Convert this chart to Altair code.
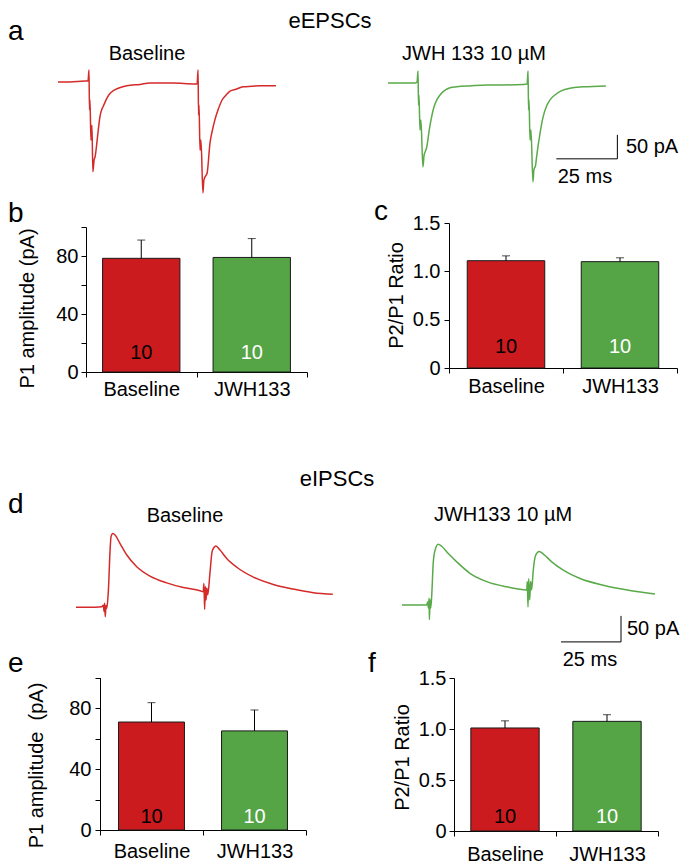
import altair as alt
import pandas as pd

FONT = "Liberation Sans"
RED_BAR = "#cc1b1f"
GREEN_BAR = "#55a546"
RED_TRACE = "#d42a2a"
GREEN_TRACE = "#5aaa4a"

# ---------------- data ----------------
categories = ["Baseline", "JWH133"]
n_cells = [10, 10]
n_label_colors = ["black", "white"]

p1_epsc_mean = [78.4, 79.0]
p1_epsc_sem = [12.6, 13.0]
ppr_epsc_mean = [1.11, 1.10]
ppr_epsc_sem = [0.05, 0.04]
p1_ipsc_mean = [70.8, 65.0]
p1_ipsc_sem = [12.7, 13.7]
ppr_ipsc_mean = [1.01, 1.075]
ppr_ipsc_sem = [0.07, 0.065]

# eEPSC traces (time in ms, current in pA)
epsc_base_t = [0, 4.9, 11.1, 12.3, 12.7, 12.9, 13.1, 13.5, 13.9, 14.3, 14.8, 15.2, 15.9, 16.5, 17.2,
               17.9, 18.6, 20.0, 21.3, 22.7, 24.7, 28.2, 33.6, 37.7, 47.1, 56.1, 57.0, 57.4, 57.6,
               57.8, 58.2, 58.6, 59.4, 59.8, 60.7, 61.1, 62.3, 63.3, 64.3, 65.6, 67.2, 68.9, 70.5,
               73.0, 75.8, 79.5, 82.8, 89.3]
epsc_base_i = [0, 0, 2, 2, 25, -58, -37, -121, -90, -187, -162, -156, -128, -100, -72,
               -58, -50, -34, -24, -18, -13, -8, -5, -2, -2, -4, -4, 25, -69,
               -48, -142, -121, -231, -204, -194, -190, -127, -100, -79, -58, -38, -27, -19,
               -15, -10, -9, -8, -8]
epsc_jwh_t = [0, 4.9, 11.1, 11.9, 12.3, 12.5, 12.7, 13.1, 13.5, 14.3, 14.8, 15.2, 15.9, 16.9, 17.9,
              18.9, 20.0, 21.3, 23.4, 25.4, 28.2, 33.6, 40.5, 47.3, 55.5, 57.0, 57.4, 57.6, 57.8,
              58.2, 58.6, 59.4, 59.8, 60.5, 60.9, 62.3, 63.6, 65.0, 66.4, 68.4, 71.2, 74.6, 80.0,
              89.3]
epsc_jwh_i = [0, 0, 0, 2, 25, -46, -25, -98, -77, -175, -150, -144, -133, -98, -70,
              -49, -35, -25, -15, -10, -8, -6, -4, -4, -3, -2, 25, -56, -35,
              -119, -98, -206, -181, -171, -154, -105, -70, -48, -35, -25, -16, -11, -8,
              -6]

# eIPSC traces
ipsc_base_t = [0, 5.8, 10.7, 11.4, 11.7, 11.9, 12.2, 12.5, 12.8, 13.5, 14.2, 14.6, 15.3, 16.3, 18.3,
               21.1, 25.3, 30.8, 37.8, 44.7, 51.7, 53.0, 53.3, 53.6, 53.9, 54.2, 54.5, 54.9, 55.8,
               56.7, 57.5, 58.3, 60.0, 62.8, 67.0, 73.9, 82.2, 90.5, 98.9, 107.0]
ipsc_base_i = [0, 0, 1, 4, -8, 8, -18, 4, -2, 33, 110, 136, 142, 139, 123,
               101, 78, 60, 47, 38, 32, 30, 46, -4, 40, 14, 37, 24, 65,
               107, 115, 118, 110, 94, 77, 58, 44, 35, 28, 25]
ipsc_jwh_t = [0, 6.1, 10.3, 10.7, 11.0, 11.3, 11.4, 11.7, 12.0, 12.5, 13.0, 13.8, 15.1, 16.5, 19.3,
              22.8, 28.3, 35.3, 43.6, 52.0, 52.2, 52.5, 52.8, 53.2, 53.6, 54.0, 54.7, 55.5, 56.4,
              57.2, 58.9, 62.4, 67.2, 74.2, 83.9, 95.0, 105.4]
ipsc_jwh_i = [0, 0, 0, 6, -6, 13, -28, 10, -6, 29, 80, 106, 117, 113, 99,
              83, 61, 45, 35, 29, 45, -4, 51, 10, 45, 29, 67, 93, 101,
              103, 98, 83, 67, 51, 38, 28, 21]

# scale bars: 25 ms / 50 pA, anchored at the corner (time, current)
scalebar_ms = 25
scalebar_pa = 50
scalebar_a_corner = [94.0, -158.0]
scalebar_d_corner = [91.25, -71.0]

W, H = 673, 855


def lin(domain, rng):
    return alt.Scale(domain=domain, range=rng, nice=False, zero=False)


def trace(t, i, color, xsc, ysc):
    df = pd.DataFrame({"t": t, "i": i, "k": list(range(len(t)))})
    return alt.Chart(df).mark_line(color=color, strokeWidth=1.5, strokeJoin="round",
                                   interpolate="monotone").encode(
        x=alt.X("t:Q", scale=xsc, axis=None),
        y=alt.Y("i:Q", scale=ysc, axis=None),
        order=alt.Order("k:Q"),
    )


def scalebar(corner, xsc, ysc, pa_dx, pa_dy, ms_dx, ms_dy):
    te, ib = corner
    segs = pd.DataFrame({
        "t": [te - scalebar_ms, te], "t2": [te, te],
        "i": [ib, ib], "i2": [ib, ib + scalebar_pa],
    })
    rule = alt.Chart(segs).mark_rule(color="black", strokeWidth=1).encode(
        x=alt.X("t:Q", scale=xsc, axis=None), x2="t2:Q",
        y=alt.Y("i:Q", scale=ysc, axis=None), y2="i2:Q",
    )
    pa = alt.Chart(pd.DataFrame({"t": [te + pa_dx], "i": [ib + pa_dy], "s": [f"{scalebar_pa} pA"]})).mark_text(
        font=FONT, fontSize=20, align="left", baseline="middle", color="black").encode(
        x=alt.X("t:Q", scale=xsc, axis=None), y=alt.Y("i:Q", scale=ysc, axis=None), text="s:N")
    ms = alt.Chart(pd.DataFrame({"t": [te + ms_dx], "i": [ib + ms_dy], "s": [f"{scalebar_ms} ms"]})).mark_text(
        font=FONT, fontSize=20, align="center", baseline="middle", color="black").encode(
        x=alt.X("t:Q", scale=xsc, axis=None), y=alt.Y("i:Q", scale=ysc, axis=None), text="s:N")
    return [rule, pa, ms]


def bar_panel(means, sems, ydom, yrange, xrange, band, ytitle, yvals, lexpr,
              xoff, yoff, tx, ty, ylpad, xlpad, ndy):
    df = pd.DataFrame({
        "cat": categories, "mean": means,
        "hi": [m + s for m, s in zip(means, sems)], "n": n_cells,
    })
    xs = alt.Scale(type="band", domain=categories, range=xrange, paddingInner=0, paddingOuter=0)
    ys = lin(ydom, yrange)
    xaxis = alt.Axis(orient="bottom", offset=xoff, title=None, labelAngle=0, labelFontSize=20,
                     labelPadding=xlpad, tickSize=5, tickBand="extent", grid=False,
                     labelFont=FONT, labelColor="black", tickColor="black", domainColor="black")
    yaxis = alt.Axis(orient="left", offset=yoff, values=yvals, labelExpr=lexpr, title=ytitle,
                     titleX=tx, titleY=ty, titleFontSize=20, titleFontWeight="normal", titleFont=FONT,
                     titleColor="black", labelFontSize=20, labelPadding=ylpad, tickSize=5, grid=False,
                     labelFont=FONT, labelColor="black", tickColor="black", domainColor="black",
                     labelOverlap=False)
    base = alt.Chart(df)
    bars = base.mark_bar(width=alt.RelativeBandSize(band), stroke="#1a1a1a", strokeWidth=1).encode(
        x=alt.X("cat:N", scale=xs, axis=xaxis),
        y=alt.Y("mean:Q", scale=ys, axis=yaxis),
        y2=alt.datum(0),
        color=alt.Color("cat:N", scale=alt.Scale(domain=categories, range=[RED_BAR, GREEN_BAR]), legend=None),
    )
    err = base.mark_rule(color="black", strokeWidth=1).encode(
        x=alt.X("cat:N", scale=xs, axis=None),
        y=alt.Y("mean:Q", scale=ys, axis=None),
        y2="hi:Q",
    )
    cap = base.mark_tick(color="black", size=8, thickness=1).encode(
        x=alt.X("cat:N", scale=xs, axis=None),
        y=alt.Y("hi:Q", scale=ys, axis=None),
    )
    ntxt = base.mark_text(font=FONT, fontSize=20, baseline="middle", dy=ndy).encode(
        x=alt.X("cat:N", scale=xs, axis=None),
        y=alt.YDatum(0, scale=ys, axis=None),
        text="n:Q",
        color=alt.Color("cat:N", scale=alt.Scale(domain=categories, range=n_label_colors), legend=None),
    )
    return [bars, err, cap, ntxt]


def note(s, x, y, size, align="center", baseline="middle"):
    return alt.Chart(pd.DataFrame({"s": [s]})).mark_text(
        font=FONT, fontSize=size, align=align, baseline=baseline, color="black").encode(
        x=alt.value(x), y=alt.value(y), text="s:N")


layers = []

# ---- row a: eEPSC traces ----
xa_r = lin([0, 100], [50, 294]);  ya_r = lin([-250, 50], [194, 50])
xa_g = lin([0, 100], [380, 624]); ya_g = lin([-250, 50], [195, 51])
layers.append(trace(epsc_base_t, epsc_base_i, RED_TRACE, xa_r, ya_r))
layers.append(trace(epsc_jwh_t, epsc_jwh_i, GREEN_TRACE, xa_g, ya_g))
layers += scalebar(scalebar_a_corner, xa_g, ya_g, 3.5, 25, -13.3, -38)

# ---- row d: eIPSC traces ----
xd_r = lin([0, 120], [68, 356]);  yd_r = lin([-120, 160], [661.7, 516.1])
xd_g = lin([0, 120], [394, 682]); yd_g = lin([-120, 160], [659.4, 513.8])
layers.append(trace(ipsc_base_t, ipsc_base_i, RED_TRACE, xd_r, yd_r))
layers.append(trace(ipsc_jwh_t, ipsc_jwh_i, GREEN_TRACE, xd_g, yd_g))
layers += scalebar(scalebar_d_corner, xd_g, yd_g, 2.5, 25, -12.95, -35)

amp_vals = [0, 20, 40, 60, 80, 100]
amp_expr = "datum.value % 40 == 0 ? datum.label : ''"
ppr_vals = [0, 0.5, 1.0, 1.5]
ppr_expr = "datum.value == 0 ? '0' : format(datum.value, '.1f')"

# ---- b ----
layers += bar_panel(p1_epsc_mean, p1_epsc_sem, [0, 100], [364, 219], [78, 299], 0.7,
                    "P1 amplitude (pA)", amp_vals, amp_expr, 364 - H, -78, -49, 300, 3, 2, -19)
# ---- c ----
layers += bar_panel(ppr_epsc_mean, ppr_epsc_sem, [0, 1.5], [360, 215], [441, 669], 0.68,
                    "P2/P1 Ratio", ppr_vals, ppr_expr, 360 - H, -441, -43, 287, 4, 3, -21)
# ---- e ----
layers += bar_panel(p1_ipsc_mean, p1_ipsc_sem, [0, 100], [822, 669.5], [92, 298], 0.64,
                    "P1 amplitude\u00a0 (pA)", amp_vals, amp_expr, 822 - H, -92, -54, 757, 4, 6, -13)
# ---- f ----
layers += bar_panel(ppr_ipsc_mean, ppr_ipsc_sem, [0, 1.5], [823, 670], [446, 650], 0.67,
                    "P2/P1 Ratio", ppr_vals, ppr_expr, 823 - H, -446, -42, 749, 3, 8, -14)

# ---- annotations ----
layers += [
    note("eEPSCs", 322, 20, 22, baseline="alphabetic"),
    note("eIPSCs", 329, 478, 22, baseline="alphabetic"),
    note("a", 0, 32, 28, align="left", baseline="alphabetic"),
    note("b", 0, 214, 28, align="left", baseline="alphabetic"),
    note("c", 366, 212, 28, align="left", baseline="alphabetic"),
    note("d", 0, 505, 28, align="left", baseline="alphabetic"),
    note("e", 0, 664, 28, align="left", baseline="alphabetic"),
    note("f", 360, 664, 28, align="left", baseline="alphabetic"),
    note("Baseline", 139, 46, 20),
    note("JWH 133 10 \u00b5M", 466, 46, 20),
    note("Baseline", 177, 508, 20),
    note("JWH133 10 \u00b5M", 495, 507, 20),
]

chart = alt.layer(*layers).resolve_scale(
    x="independent", y="independent", color="independent"
).properties(
    width=W, height=H, padding=0, autosize=alt.AutoSizeParams(type="none"),
    background="white",
).configure_view(stroke=None)

chart.save("out.html", embed_options={"renderer": "svg", "actions": False})
